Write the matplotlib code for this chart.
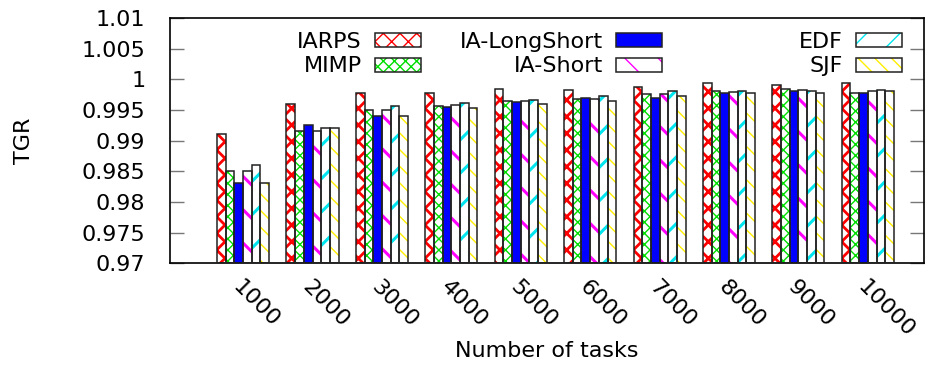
import numpy as np
import matplotlib
matplotlib.use("Agg")
import matplotlib.pyplot as plt
from matplotlib.patches import Patch
from matplotlib.legend_handler import HandlerTuple

# Datos
tareas = ["1000", "2000", "3000", "4000", "5000", "6000", "7000", "8000", "9000", "10000"]
series = ["IARPS", "MIMP", "IA-LongShort", "IA-Short", "EDF", "SJF"]

iarps = [0.9910, 0.9959, 0.9977, 0.9977, 0.9984, 0.9983, 0.9988, 0.9993, 0.9990, 0.9993]
mimp = [0.9850, 0.9915, 0.9950, 0.9957, 0.9964, 0.9967, 0.9976, 0.9980, 0.9984, 0.9978]
ia_longshort = [0.9830, 0.9925, 0.9940, 0.9954, 0.9963, 0.9969, 0.9969, 0.9978, 0.9981, 0.9977]
ia_short = [0.9850, 0.9915, 0.9950, 0.9958, 0.9964, 0.9967, 0.9976, 0.9979, 0.9983, 0.9980]
edf = [0.9860, 0.9920, 0.9957, 0.9962, 0.9966, 0.9972, 0.9980, 0.9980, 0.9980, 0.9983]
sjf = [0.9830, 0.9920, 0.9940, 0.9953, 0.9959, 0.9965, 0.9973, 0.9978, 0.9978, 0.9980]

yticks = [0.97, 0.975, 0.98, 0.985, 0.99, 0.995, 1.0, 1.005, 1.01]
ytick_labels = ["0.97", "0.975", "0.98", "0.985", "0.99", "0.995", "1", "1.005", "1.01"]

valores = [iarps, mimp, ia_longshort, ia_short, edf, sjf]
# (color, hatch, grosor de hatch, relleno)
estilos = [
    ("#ff0000", "xx", 2.0, "white"),
    ("#00dd00", "xxx", 1.0, "white"),
    ("#0000ff", "", 1.0, "#0000ff"),
    ("#ff00ff", "\\", 2.2, "white"),
    ("#00e5ee", "/", 2.2, "white"),
    ("#ffee00", "\\\\", 1.0, "white"),
]

plt.rcParams['font.family'] = ['DejaVu Sans']
fs = 16

fig = plt.figure(figsize=(9.25, 3.65), dpi=100)
ax = fig.add_axes([0.184, 0.279, 0.815, 0.672])

x = np.arange(len(tareas))
w = 0.125
handles = []
for i, (vals, (col, hatch, hlw, fill)) in enumerate(zip(valores, estilos)):
    pos = x + (i - 2.5) * w
    with plt.rc_context({'hatch.linewidth': hlw}):
        ax.bar(pos, np.array(vals) - 0.97, w, bottom=0.97, color=fill,
               edgecolor=col, hatch=hatch, linewidth=0, zorder=2)
        h1 = Patch(facecolor=fill, edgecolor=col, hatch=hatch, linewidth=0)
    ax.bar(pos, np.array(vals) - 0.97, w, bottom=0.97, fill=False,
           edgecolor="#222222", linewidth=1.1, zorder=3)
    h2 = Patch(fill=False, edgecolor="#222222", linewidth=1.1)
    handles.append((h1, h2))

ax.set_ylim(0.97, 1.01)
ax.set_xlim(-1.05, 9.81)
ax.set_yticks(yticks)
ax.set_yticklabels(ytick_labels, fontsize=fs)
ax.set_xticks(x)
ax.set_xticklabels(tareas, fontsize=fs, rotation=-45, ha="left", va="top",
                   rotation_mode="anchor")
ax.tick_params(axis="x", length=0, pad=10)
ax.tick_params(axis="y", direction="in", length=10, width=1, color="#777777",
               right=True, pad=18)
for s in ax.spines.values():
    s.set_linewidth(1.2)

ax.set_xlabel("Number of tasks", fontsize=fs, labelpad=0)
ax.set_ylabel("TGR", fontsize=fs, labelpad=34)

# leyenda: tres bloques, texto a la izquierda de la muestra
hmap = {tuple: HandlerTuple(ndivide=1, pad=0)}
bloques = [(0, 2, 421), (2, 4, 662), (4, 6, 902)]
for a, b, xr in bloques:
    leg = fig.legend(handles[a:b], series[a:b], ncol=1, markerfirst=False,
                     handler_map=hmap, frameon=False, fontsize=fs,
                     handlelength=2.07, handleheight=0.6, handletextpad=0.6,
                     labelspacing=0.2, loc="upper right", borderpad=0,
                     borderaxespad=0,
                     bbox_to_anchor=(xr / 925, 1 - 32 / 365),
                     bbox_transform=fig.transFigure)

fig.savefig("out.png", dpi=100)
